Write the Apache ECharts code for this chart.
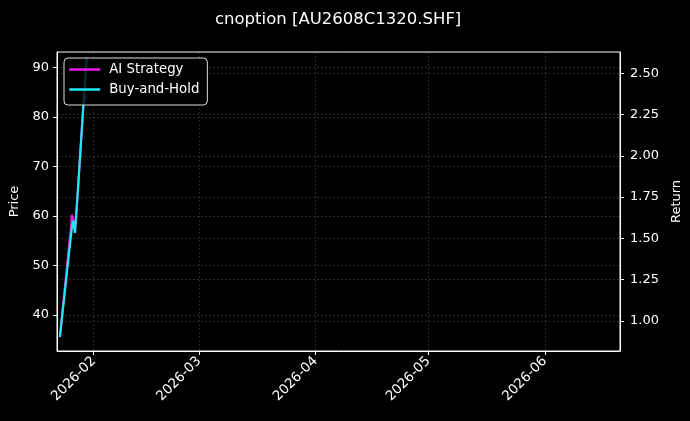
<!DOCTYPE html>
<html>
<head>
<meta charset="utf-8">
<script src="https://cdn.jsdelivr.net/npm/echarts@6/dist/echarts.min.js"></script>
<style>
html,body{margin:0;padding:0;background:#000;}
#c{width:690px;height:421px;}
</style>
</head>
<body>
<div id="c"></div>
<script>
// ---- data ----
const titleText = 'cnoption [AU2608C1320.SHF]';
const seriesNames = ['AI Strategy', 'Buy-and-Hold'];
const aiDates = ['2026-01-23 00:00','2026-01-26 00:00','2026-01-26 04:00','2026-01-26 12:00','2026-01-27 00:00','2026-01-27 19:00','2026-01-29 06:00','2026-01-30 03:00'];
const aiValues = [0.903, 1.581, 1.642, 1.618, 1.533, 1.793, 2.308, 2.369];
const bhDates = ['2026-01-23 00:00','2026-01-26 04:00','2026-01-26 13:00','2026-01-27 00:00','2026-01-27 19:00','2026-01-29 06:00','2026-01-30 03:00'];
const bhValues = [0.903, 1.563, 1.606, 1.533, 1.793, 2.308, 2.593];
const xTickLabels = ['2026-02','2026-03','2026-04','2026-05','2026-06'];
const priceTicks = [40, 50, 60, 70, 80, 90];
const returnTicks = [1.00, 1.25, 1.50, 1.75, 2.00, 2.25, 2.50];

function ts(s) { return new Date(s.replace(' ', 'T') + ':00').getTime(); }
const xTickValues = xTickLabels.map(s => new Date(s + '-01T00:00:00').getTime());
const font = 'DejaVu Sans';
const gridLine = {show: true, lineStyle: {color: 'rgba(255,255,255,0.28)', width: 0.6, type: [2, 2]}};

const chart = echarts.init(document.getElementById('c'), null, {renderer: 'canvas'});
chart.setOption({
  backgroundColor: '#000',
  animation: false,
  textStyle: {fontFamily: font},
  title: {
    text: titleText, left: 210, top: 6,
    textStyle: {color: '#fff', fontSize: 16.5, fontWeight: 'normal', fontFamily: font}
  },
  grid: {left: 57, right: 70, top: 52, bottom: 70, outerBoundsMode: 'none', containLabel: false,
    show: true, borderColor: '#fff', borderWidth: 1, backgroundColor: 'transparent'},
  legend: {
    orient: 'vertical', left: 64, top: 58,
    data: seriesNames,
    itemWidth: 31, itemHeight: 14, itemGap: 7,
    padding: [5, 8, 9, 4],
    itemStyle: {opacity: 0},
    lineStyle: {width: 2.5},
    backgroundColor: 'rgba(0,0,0,0.8)',
    borderColor: '#ddd', borderWidth: 1, borderRadius: 4,
    textStyle: {color: '#fff', fontSize: 13.3, fontFamily: font, padding: [0, 0, 0, 4]}
  },
  xAxis: {
    type: 'value',
    min: ts('2026-01-22 05:30'),
    max: ts('2026-06-21 00:00'),
    axisLine: {show: true, onZero: false, lineStyle: {color: '#fff'}},
    axisTick: {show: true, length: 4, lineStyle: {color: '#fff'}, customValues: xTickValues},
    axisLabel: {
      customValues: xTickValues, rotate: 45, margin: 8, color: '#fff', fontSize: 13.5, fontFamily: font,
      formatter: function (v) { return xTickLabels[xTickValues.indexOf(v)] || ''; }
    },
    splitLine: gridLine
  },
  yAxis: [{
    type: 'value', position: 'left', min: 32.74, max: 93.1,
    name: 'Price', nameLocation: 'middle', nameRotate: 90, nameGap: 32,
    nameTextStyle: {color: '#fff', fontSize: 13, fontFamily: font},
    axisLine: {show: true, lineStyle: {color: '#fff'}},
    axisTick: {show: true, length: 4, lineStyle: {color: '#fff'}, customValues: priceTicks},
    axisLabel: {customValues: priceTicks, color: '#fff', fontSize: 13, margin: 8, fontFamily: font},
    splitLine: gridLine
  }, {
    type: 'value', position: 'right', min: 0.818, max: 2.629,
    name: 'Return', nameLocation: 'middle', nameRotate: 90, nameGap: 43,
    nameTextStyle: {color: '#fff', fontSize: 13, fontFamily: font},
    axisLine: {show: true, lineStyle: {color: '#fff'}},
    axisTick: {show: true, length: 4, lineStyle: {color: '#fff'}, customValues: returnTicks},
    axisLabel: {customValues: returnTicks, color: '#fff', fontSize: 13, margin: 10, fontFamily: font,
      formatter: function (v) { return Number(v).toFixed(2); }},
    splitLine: gridLine
  }],
  series: [{
    name: seriesNames[0], type: 'line', yAxisIndex: 1, showSymbol: false, symbol: 'none',
    data: aiDates.map((d, i) => [ts(d), aiValues[i]]),
    lineStyle: {color: '#e81ee8', width: 2.2}, itemStyle: {color: '#e81ee8'}
  }, {
    name: seriesNames[1], type: 'line', yAxisIndex: 1, showSymbol: false, symbol: 'none',
    data: bhDates.map((d, i) => [ts(d), bhValues[i]]),
    lineStyle: {color: '#1ee8f0', width: 2.2}, itemStyle: {color: '#1ee8f0'}
  }]
});
</script>
</body>
</html>
